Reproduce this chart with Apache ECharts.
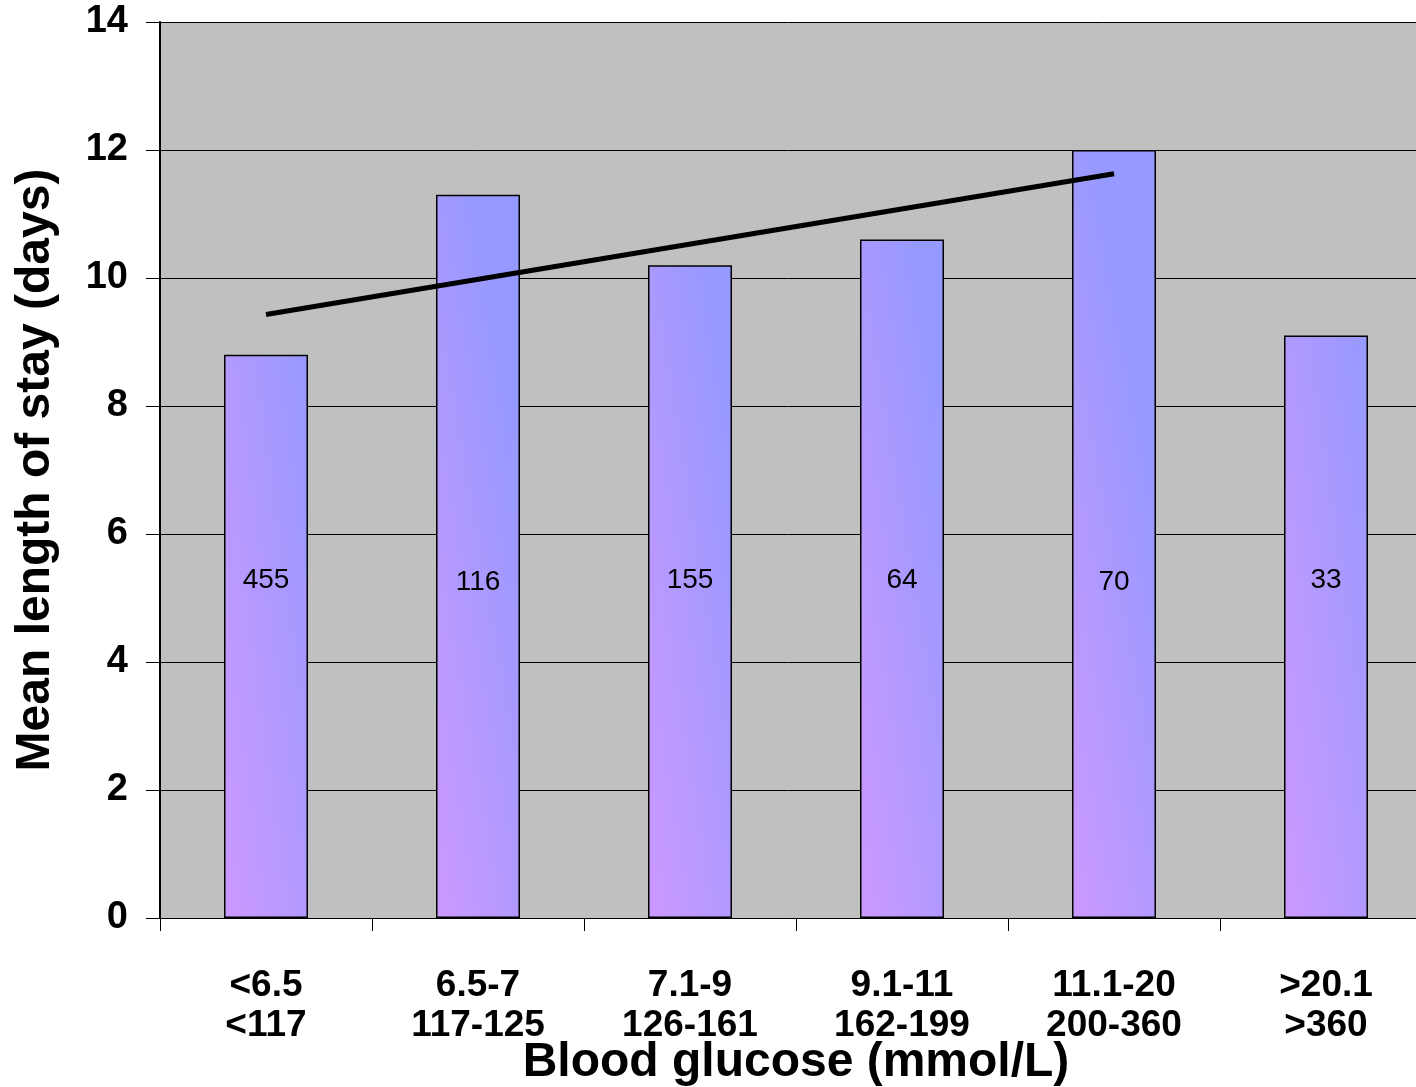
<!DOCTYPE html>
<html>
<head>
<meta charset="utf-8">
<script src="https://cdn.jsdelivr.net/npm/echarts@6/dist/echarts.min.js"></script>
<style>
html,body{margin:0;padding:0;background:#fff;}
#chart{width:1416px;height:1087px;}
</style>
</head>
<body>
<div id="chart"></div>
<script>
var categories = ['<6.5\n<117', '6.5-7\n117-125', '7.1-9\n126-161', '9.1-11\n162-199', '11.1-20\n200-360', '>20.1\n>360'];
var meanStay = [8.8, 11.3, 10.2, 10.6, 12.0, 9.1];
var patientCounts = [455, 116, 155, 64, 70, 33];
var countLabelLevel = [5.28, 5.25, 5.28, 5.28, 5.25, 5.28];
var trendPoints = [[0, 9.43], [4, 11.63]];
var yTicks = {min: 0, max: 14, interval: 2};

var chart = echarts.init(document.getElementById('chart'), null, {renderer: 'canvas'});
var FONT = 'Liberation Sans, Arial, Helvetica, sans-serif';

var barFill = new echarts.graphic.LinearGradient(0, 1, 1.95, 0.96, [
  {offset: 0, color: '#CC99FF'},
  {offset: 1, color: '#9699FF'}
]);

chart.setOption({
  animation: false,
  backgroundColor: '#ffffff',
  grid: {
    left: 160, top: 22, right: -16, bottom: 169,
    containLabel: false,
    outerBoundsMode: 'none',
    show: true, backgroundColor: '#C0C0C0', borderWidth: 0
  },
  xAxis: {
    type: 'category',
    data: categories,
    boundaryGap: true,
    axisLine: {show: true, lineStyle: {color: '#000', width: 1}},
    axisTick: {show: true, length: 13, lineStyle: {color: '#000', width: 1}},
    axisLabel: {
      color: '#000', fontFamily: FONT, fontWeight: 'bold', fontSize: 37,
      lineHeight: 40, margin: 48, interval: 0
    },
    name: 'Blood glucose (mmol/L)',
    nameLocation: 'middle',
    nameGap: 121,
    nameMoveOverlap: false,
    nameTextStyle: {color: '#000', fontFamily: FONT, fontWeight: 'bold', fontSize: 48}
  },
  yAxis: {
    type: 'value',
    min: yTicks.min, max: yTicks.max, interval: yTicks.interval,
    axisLine: {show: true, lineStyle: {color: '#000', width: 2}},
    axisTick: {show: true, length: 14, inside: false, lineStyle: {color: '#000', width: 1}},
    axisLabel: {color: '#000', fontFamily: FONT, fontWeight: 'bold', fontSize: 38, margin: 32},
    splitLine: {show: true, lineStyle: {color: '#000', width: 1}},
    name: 'Mean length of stay (days)',
    nameLocation: 'middle',
    nameGap: 100,
    nameMoveOverlap: false,
    nameTextStyle: {color: '#000', fontFamily: FONT, fontWeight: 'bold', fontSize: 48}
  },
  series: [
    {
      type: 'bar',
      data: meanStay,
      barWidth: 84,
      itemStyle: {
        color: barFill,
        borderColor: '#000', borderWidth: 1.5
      },
      z: 2
    },
    {
      type: 'scatter',
      data: countLabelLevel.map(function (v, i) { return [i, v, patientCounts[i]]; }),
      symbolSize: 1,
      itemStyle: {color: 'rgba(0,0,0,0)'},
      label: {
        show: true, position: 'inside',
        formatter: function (p) { return String(p.data[2]); },
        color: '#000', opacity: 1, fontFamily: FONT, fontSize: 28
      },
      z: 5
    },
    {
      type: 'line',
      data: trendPoints,
      symbol: 'none',
      lineStyle: {color: '#000', width: 5},
      z: 6
    }
  ]
});
</script>
</body>
</html>
